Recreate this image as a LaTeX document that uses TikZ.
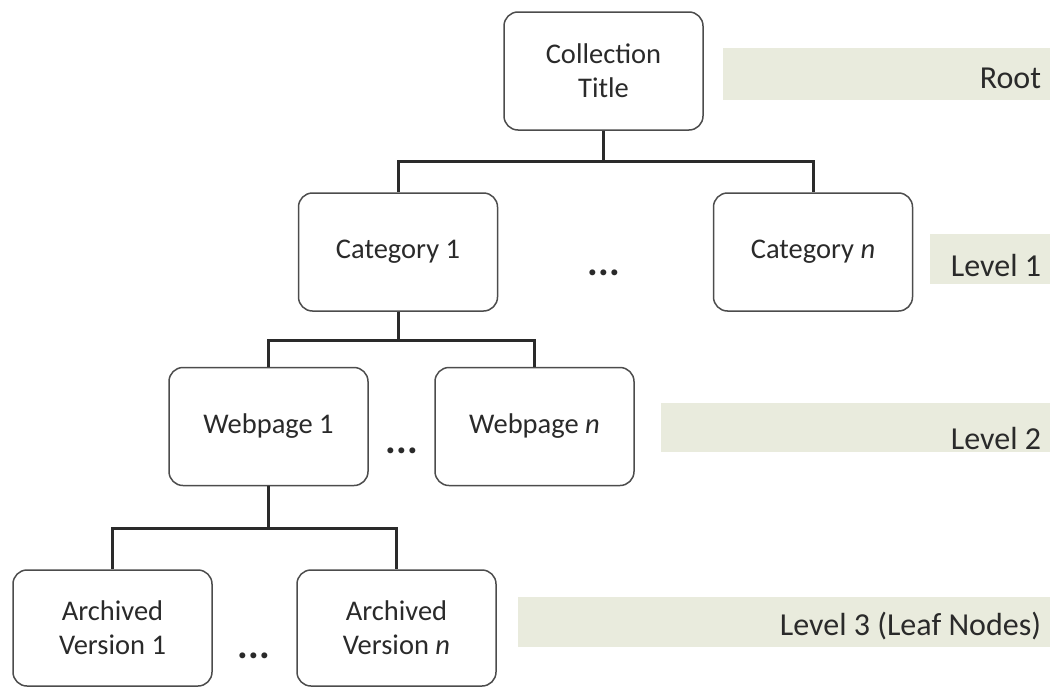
\documentclass[tikz,border=0pt]{standalone}
\usepackage{fontspec}
\setmainfont{Carlito}
\definecolor{bandcol}{HTML}{E9EBDD}
\definecolor{inkcol}{HTML}{2A2A2A}
\begin{document}
\begin{tikzpicture}[x=1pt,y=-1pt,
  box/.style={draw=black!70, line width=1.5pt, rounded corners=14pt,
    minimum width=199pt, minimum height=118pt, align=center, inner sep=0pt,
    font=\fontsize{28.5}{34}\selectfont, text=inkcol},
  conn/.style={line width=3pt, draw=inkcol},
  band/.style={fill=bandcol, draw=none, inner sep=0pt},
  lab/.style={font=\fontsize{32}{38}\selectfont, anchor=east, text=inkcol, inner sep=0pt},
  dotsnode/.style={font=\fontsize{40}{46}\selectfont\bfseries, text=inkcol, inner sep=0pt}]
\useasboundingbox (0,0) rectangle (1054,688);

% level bands
\node[band, minimum width=327pt, minimum height=52pt] (broot) at (886.5,74) {};
\node[band, minimum width=120pt, minimum height=50pt] (bone) at (990,258.5) {};
\node[band, minimum width=389pt, minimum height=49pt] (btwo) at (855.5,427.5) {};
\node[band, minimum width=532pt, minimum height=50pt] (bthree) at (784,622) {};
\node[lab] (lroot) at ([xshift=-9pt,yshift=-4pt]broot.east) {Root};
\node[lab] (lone) at ([xshift=-9pt,yshift=-7pt]bone.east) {Level 1};
\node[lab] (ltwo) at ([xshift=-9pt,yshift=-11pt]btwo.east) {Level 2};
\node[lab] (lthree) at ([xshift=-9pt,yshift=-4pt]bthree.east) {Level 3 (Leaf Nodes)};

% tree nodes
\node[box] (root) at (603.5,71) {Collection\\Title};
\node[box] (cat1) at (398,252) {Category 1};
\node[box] (catn) at (813,252) {Category \textit{n}};
\node[box] (web1) at (268.5,426.5) {Webpage 1};
\node[box] (webn) at (534.5,426.5) {Webpage \textit{n}};
\node[box, minimum height=116pt] (arc1) at (112.5,628) {Archived\\Version 1};
\node[box, minimum height=116pt] (arcn) at (396.5,628) {Archived\\Version \textit{n}};

% ellipses
\node[dotsnode] (d1) at (604,273) {...};
\node[dotsnode] (d2) at (402,451) {...};
\node[dotsnode] (d3) at (254,656) {...};

% connectors
\coordinate (j0) at (603.5,161);
\coordinate (j1) at (398,340);
\coordinate (j2) at (268.5,528);
\draw[conn] (root.south) -- (j0);
\draw[conn] (cat1.north) |- (j0) -| (catn.north);
\draw[conn] (cat1.south) -- (j1);
\draw[conn] (web1.north) |- (j1) -| (webn.north);
\draw[conn] (web1.south) -- (j2);
\draw[conn] (arc1.north) |- (j2) -| (arcn.north);
\end{tikzpicture}
\end{document}
